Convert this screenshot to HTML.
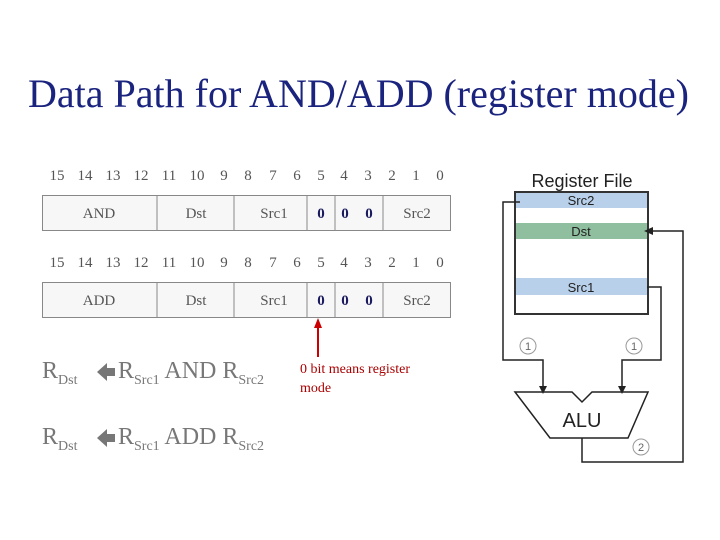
<!DOCTYPE html><html><head><style>
body{margin:0;width:720px;height:540px;background:#fff;position:relative;font-family:"Liberation Serif",serif;overflow:hidden}
.a{position:absolute;white-space:nowrap}
.big{font-size:24px;color:#777}
sub{font-size:14px}
</style></head><body>
<div class="a" style="left:28px;top:70px;font-size:40px;color:#1a237e">Data Path for AND/ADD (register mode)</div>
<svg class="a" style="left:0;top:0" width="720" height="540">
<g font-family="Liberation Serif" font-size="15" fill="#555" text-anchor="middle">
<g id="n">
<text x="57" y="180">15</text><text x="85" y="180">14</text><text x="113" y="180">13</text><text x="141" y="180">12</text><text x="169" y="180">11</text><text x="197" y="180">10</text><text x="224" y="180">9</text><text x="248" y="180">8</text><text x="273" y="180">7</text><text x="297" y="180">6</text><text x="321" y="180">5</text><text x="344" y="180">4</text><text x="368" y="180">3</text><text x="392" y="180">2</text><text x="416" y="180">1</text><text x="440" y="180">0</text>
</g>
<use href="#n" y="87"/>
</g>
<g fill="#f7f7f7" stroke="#888" stroke-width="1">
<rect x="42.5" y="195.5" width="408" height="35"/>
<rect x="42.5" y="282.5" width="408" height="35"/>
<path d="M157 195v35M234 195v35M307 195v35M335 195v35M383 195v35M157 282v35M234 282v35M307 282v35M335 282v35M383 282v35"/>
</g>
<g font-family="Liberation Serif" font-size="15" text-anchor="middle" fill="#555">
<text x="99" y="218">AND</text><text x="196" y="218">Dst</text><text x="274" y="218">Src1</text><text x="417" y="218">Src2</text>
<text x="99" y="305">ADD</text><text x="196" y="305">Dst</text><text x="274" y="305">Src1</text><text x="417" y="305">Src2</text>
<g fill="#1a1a5e" font-weight="bold"><text x="321" y="218">0</text><text x="345" y="218">0</text><text x="369" y="218">0</text><text x="321" y="305">0</text><text x="345" y="305">0</text><text x="369" y="305">0</text></g>
</g>
<path d="M318 357V326" stroke="#c00" stroke-width="2"/><path d="M314 328l4-10 4 10z" fill="#c00"/>
<text x="300" y="373" font-family="Liberation Serif" font-size="14" fill="#a00">0 bit means register</text>
<text x="300" y="392" font-family="Liberation Serif" font-size="14" fill="#a00">mode</text>
<path d="M97 372l10-9v5h8v8h-8v5z" fill="#777"/>
<path d="M97 438l10-9v5h8v8h-8v5z" fill="#777"/>
<text x="582" y="187" font-family="Liberation Sans" font-size="18" text-anchor="middle" fill="#222">Register File</text>
<rect x="515" y="192" width="133" height="122" fill="#fff" stroke="#333" stroke-width="2"/>
<rect x="516" y="193" width="131" height="15" fill="#b8d0ea"/>
<rect x="516" y="223" width="131" height="16" fill="#8fbf9f"/>
<rect x="516" y="278" width="131" height="17" fill="#b8d0ea"/>
<g font-family="Liberation Sans" font-size="13" text-anchor="middle" fill="#222">
<text x="581" y="205">Src2</text><text x="581" y="236">Dst</text><text x="581" y="292">Src1</text></g>
<g fill="none" stroke="#222" stroke-width="1.5">
<path d="M520 202H503V360H543V388"/>
<path d="M647 287H661V360H622V388"/>
<path d="M582 438V462H683V231H652"/>
<path d="M515 392H572L582 402L592 392H648L628 438H550Z" fill="#fff"/>
<circle cx="528" cy="346" r="8" stroke="#999" stroke-width="1"/><circle cx="634" cy="346" r="8" stroke="#999" stroke-width="1"/><circle cx="641" cy="447" r="8" stroke="#999" stroke-width="1"/>
</g>
<path d="M539 386h8l-4 8z M618 386h8l-4 8z M644 231l9-4v8z" fill="#222"/>
<g font-family="Liberation Sans" font-size="11" text-anchor="middle" fill="#666"><text x="528" y="350">1</text><text x="634" y="350">1</text><text x="641" y="451">2</text></g>
<text x="582" y="427" font-family="Liberation Sans" font-size="20" text-anchor="middle" fill="#222">ALU</text>
</svg>
<div class="a big" style="left:42px;top:358px">R<sub>Dst</sub></div>
<div class="a big" style="left:118px;top:358px">R<sub>Src1</sub> AND R<sub>Src2</sub></div>
<div class="a big" style="left:42px;top:424px">R<sub>Dst</sub></div>
<div class="a big" style="left:118px;top:424px">R<sub>Src1</sub> ADD R<sub>Src2</sub></div>
</body></html>
